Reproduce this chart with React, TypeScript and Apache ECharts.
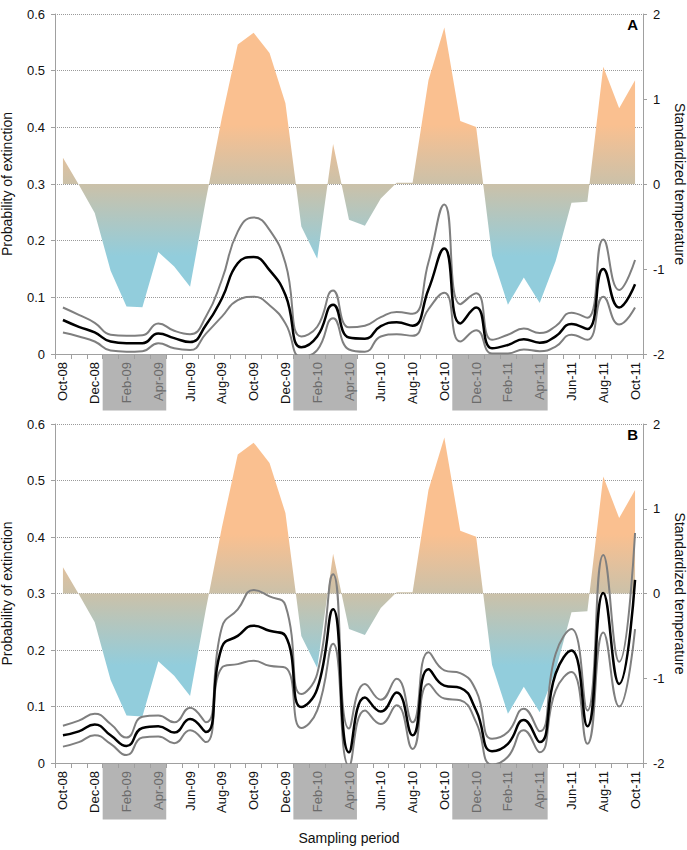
import React, { useEffect, useRef } from "react";
import * as echarts from "echarts";

const months = [
  "Oct-08", "Nov-08", "Dec-08", "Jan-09", "Feb-09", "Mar-09", "Apr-09", "May-09", "Jun-09",
  "Jul-09", "Aug-09", "Sep-09", "Oct-09", "Nov-09", "Dec-09", "Jan-10", "Feb-10", "Mar-10",
  "Apr-10", "May-10", "Jun-10", "Jul-10", "Aug-10", "Sep-10", "Oct-10", "Nov-10", "Dec-10",
  "Jan-11", "Feb-11", "Mar-11", "Apr-11", "May-11", "Jun-11", "Jul-11", "Aug-11", "Sep-11", "Oct-11",
];

// Standardized temperature (right axis), same in both panels
const temperature = [
  0.31, -0.01, -0.34, -1.02, -1.44, -1.45, -0.8, -0.97, -1.21, -0.18, 0.78, 1.64, 1.78,
  1.54, 0.95, -0.5, -0.88, 0.47, -0.42, -0.49, -0.17, 0.015, 0.015, 1.22, 1.84, 0.74, 0.67,
  -0.84, -1.42, -1.1, -1.4, -0.91, -0.22, -0.21, 1.38, 0.89, 1.22,
];

// Panel A: probability of extinction
const aMean = [
  0.06, 0.048, 0.038, 0.022, 0.019, 0.019, 0.036, 0.028, 0.021, 0.051, 0.098, 0.16, 0.171,
  0.148, 0.104, 0.012, 0.031, 0.087, 0.029, 0.027, 0.049, 0.056, 0.05, 0.114, 0.186, 0.054,
  0.082, 0.01, 0.016, 0.026, 0.02, 0.031, 0.053, 0.044, 0.15, 0.082, 0.123,
];
const aUpper = [
  0.082, 0.069, 0.055, 0.034, 0.032, 0.033, 0.054, 0.041, 0.035, 0.066, 0.131, 0.216, 0.241,
  0.219, 0.16, 0.031, 0.048, 0.112, 0.047, 0.05, 0.065, 0.074, 0.071, 0.162, 0.264, 0.088,
  0.107, 0.025, 0.034, 0.045, 0.037, 0.049, 0.073, 0.064, 0.202, 0.113, 0.166,
];
const aLower = [
  0.038, 0.031, 0.022, 0.006, 0.004, 0.005, 0.019, 0.01, 0.007, 0.036, 0.066, 0.095, 0.101,
  0.086, 0.054, -0.005, 0.007, 0.063, 0.008, 0.004, 0.031, 0.035, 0.032, 0.079, 0.108, 0.022,
  0.042, 0.001, 0.001, 0.008, 0.005, 0.013, 0.034, 0.025, 0.101, 0.052, 0.082,
];

// Panel B: probability of extinction
const bMean = [
  0.049, 0.056, 0.068, 0.049, 0.03, 0.062, 0.065, 0.054, 0.078, 0.055, 0.205, 0.225, 0.243,
  0.234, 0.225, 0.099, 0.131, 0.272, 0.019, 0.116, 0.091, 0.125, 0.049, 0.166, 0.137, 0.133,
  0.093, 0.021, 0.034, 0.076, 0.037, 0.158, 0.199, 0.065, 0.301, 0.14, 0.324,
];
const bUpper = [
  0.066, 0.075, 0.087, 0.069, 0.045, 0.082, 0.084, 0.072, 0.098, 0.072, 0.24, 0.272, 0.306,
  0.295, 0.279, 0.122, 0.158, 0.334, 0.061, 0.14, 0.112, 0.149, 0.072, 0.196, 0.164, 0.159,
  0.128, 0.043, 0.055, 0.096, 0.056, 0.193, 0.237, 0.093, 0.368, 0.179, 0.407,
];
const bLower = [
  0.029, 0.037, 0.049, 0.034, 0.014, 0.045, 0.047, 0.035, 0.058, 0.037, 0.169, 0.175, 0.181,
  0.172, 0.169, 0.062, 0.093, 0.211, -0.005, 0.093, 0.069, 0.102, 0.025, 0.14, 0.114, 0.111,
  0.072, -0.003, 0.011, 0.058, 0.019, 0.128, 0.161, 0.034, 0.231, 0.1, 0.237,
];

// Shaded sampling periods (first and last month)
const shadedPeriods = [
  ["Jan-09", "Apr-09"],
  ["Jan-10", "Apr-10"],
  ["Nov-10", "Apr-11"],
];

const probTicks = { min: 0, max: 0.6, interval: 0.1 };
const tempTicks = { min: -2, max: 2, interval: 1 };
const panelLetters = ["A", "B"];

const FONT = "'Liberation Sans', Arial, Helvetica, sans-serif";
const AXIS_COLOR = "#a0a0a0";

function isShaded(label: string): boolean {
  const i = months.indexOf(label);
  return shadedPeriods.some(([s, e]) => i >= months.indexOf(s) && i <= months.indexOf(e));
}

const grids = [
  { left: 55, right: 44, top: 14, height: 340, containLabel: false, outerBoundsMode: "none" },
  { left: 55, right: 44, top: 424, height: 339, containLabel: false, outerBoundsMode: "none" },
];

function tempGradient(top: number, height: number) {
  const y = (t: number) => top + ((2 - t) / 4) * height;
  const y0 = y(0.7);
  const y1 = y(-0.85);
  const mid = (y(0) - y0) / (y1 - y0);
  return new echarts.graphic.LinearGradient(
    0,
    y0,
    0,
    y1,
    [
      { offset: 0, color: "#FAC090" },
      { offset: mid, color: "#CBC1A9" },
      { offset: 1, color: "#92CDDC" },
    ],
    true
  );
}

export default function App() {
  const ref = useRef<HTMLDivElement>(null);

  useEffect(() => {
    document.body.style.margin = "0";
    if (!ref.current) return;
    const chart = echarts.init(ref.current, undefined, { renderer: "svg" });

    const panels = [
      { mean: aMean, upper: aUpper, lower: aLower },
      { mean: bMean, upper: bUpper, lower: bLower },
    ];

    const xAxis = panels.map((_, i) => ({
      type: "category",
      gridIndex: i,
      data: months,
      boundaryGap: true,
      axisLine: { show: true, lineStyle: { color: AXIS_COLOR, width: 1 } },
      axisTick: { show: true, interval: 0, length: 5, lineStyle: { color: AXIS_COLOR } },
      axisLabel: {
        interval: 1,
        rotate: 90,
        margin: 8,
        fontSize: 13,
        fontFamily: FONT,
        color: (value: any) => {
          const label = typeof value === "number" ? months[value] : value;
          return isShaded(label) ? "#6b6b6b" : "#111";
        },
      },
      splitLine: { show: false },
      ...(i === 1
        ? {
            name: "Sampling period",
            nameLocation: "middle",
            nameGap: 68,
            nameTextStyle: { fontSize: 14, color: "#111", fontFamily: FONT },
          }
        : {}),
    }));

    const yAxis: any[] = [];
    panels.forEach((_, i) => {
      yAxis.push({
        type: "value",
        gridIndex: i,
        position: "left",
        ...probTicks,
        name: "Probability of extinction",
        nameLocation: "middle",
        nameGap: 41,
        nameMoveOverlap: false,
        nameTextStyle: { fontSize: 14, color: "#111", fontFamily: FONT },
        axisLine: { show: true, lineStyle: { color: AXIS_COLOR } },
        axisTick: { show: true, length: 4, lineStyle: { color: AXIS_COLOR } },
        axisLabel: { fontSize: 13, color: "#111", margin: 10, fontFamily: FONT },
        splitLine: { show: true, lineStyle: { color: "#9a9a9a", type: "dotted", width: 1 } },
      });
      yAxis.push({
        type: "value",
        gridIndex: i,
        position: "right",
        ...tempTicks,
        name: "Standardized temperature",
        nameLocation: "middle",
        nameRotate: -90,
        nameGap: 30,
        nameMoveOverlap: false,
        nameTextStyle: { fontSize: 14, color: "#111", fontFamily: FONT },
        axisLine: { show: true, lineStyle: { color: AXIS_COLOR } },
        axisTick: { show: true, length: 4, lineStyle: { color: AXIS_COLOR } },
        axisLabel: { fontSize: 13, color: "#111", margin: 10, fontFamily: FONT },
        splitLine: { show: false },
      });
    });

    const series: any[] = [];
    panels.forEach((p, i) => {
      series.push({
        type: "line",
        name: "Temperature",
        xAxisIndex: i,
        yAxisIndex: i * 2 + 1,
        data: temperature,
        symbol: "none",
        lineStyle: { width: 0 },
        areaStyle: { color: tempGradient(grids[i].top, grids[i].height), opacity: 1 },
        z: 1,
      });
      const lines = [
        { data: p.upper, color: "#7f7f7f", width: 2 },
        { data: p.lower, color: "#7f7f7f", width: 2 },
        { data: p.mean, color: "#000000", width: 2.5 },
      ];
      lines.forEach((l, k) => {
        series.push({
          type: "line",
          xAxisIndex: i,
          yAxisIndex: i * 2,
          data: l.data,
          smooth: 0.5,
          symbol: "none",
          lineStyle: { color: l.color, width: l.width },
          z: 3 + k,
        });
      });
    });

    chart.setOption({
      animation: false,
      textStyle: { fontFamily: FONT },
      grid: grids,
      xAxis,
      yAxis,
      series,
    });

    // Shaded label periods and panel letters, positioned through the axes' scales
    const graphics: any[] = [];
    panels.forEach((_, i) => {
      const c0 = chart.convertToPixel({ xAxisIndex: i }, 0) as number;
      const c1 = chart.convertToPixel({ xAxisIndex: i }, 1) as number;
      const band = c1 - c0;
      const yBase = chart.convertToPixel({ yAxisIndex: i * 2 }, 0) as number;
      const yTop = chart.convertToPixel({ yAxisIndex: i * 2 }, probTicks.max) as number;
      const xRight = (chart.convertToPixel({ xAxisIndex: i }, months.length - 1) as number) + band / 2;
      shadedPeriods.forEach(([s, e]) => {
        const xs = (chart.convertToPixel({ xAxisIndex: i }, months.indexOf(s)) as number) - band / 2;
        const xe = (chart.convertToPixel({ xAxisIndex: i }, months.indexOf(e)) as number) + band / 2;
        graphics.push({
          type: "rect",
          z: -1,
          shape: { x: xs, y: yBase + 0.5, width: xe - xs, height: 56 },
          style: { fill: "#b4b4b4" },
          silent: true,
        });
      });
      graphics.push({
        type: "text",
        z: 10,
        x: xRight - 5,
        y: yTop + 3,
        style: {
          text: panelLetters[i],
          fill: "#000",
          font: `bold 15px ${FONT}`,
          textAlign: "right",
          textVerticalAlign: "top",
        },
      });
    });
    chart.setOption({ graphic: graphics });

    return () => chart.dispose();
  }, []);

  return <div ref={ref} style={{ width: 687, height: 850 }} />;
}
